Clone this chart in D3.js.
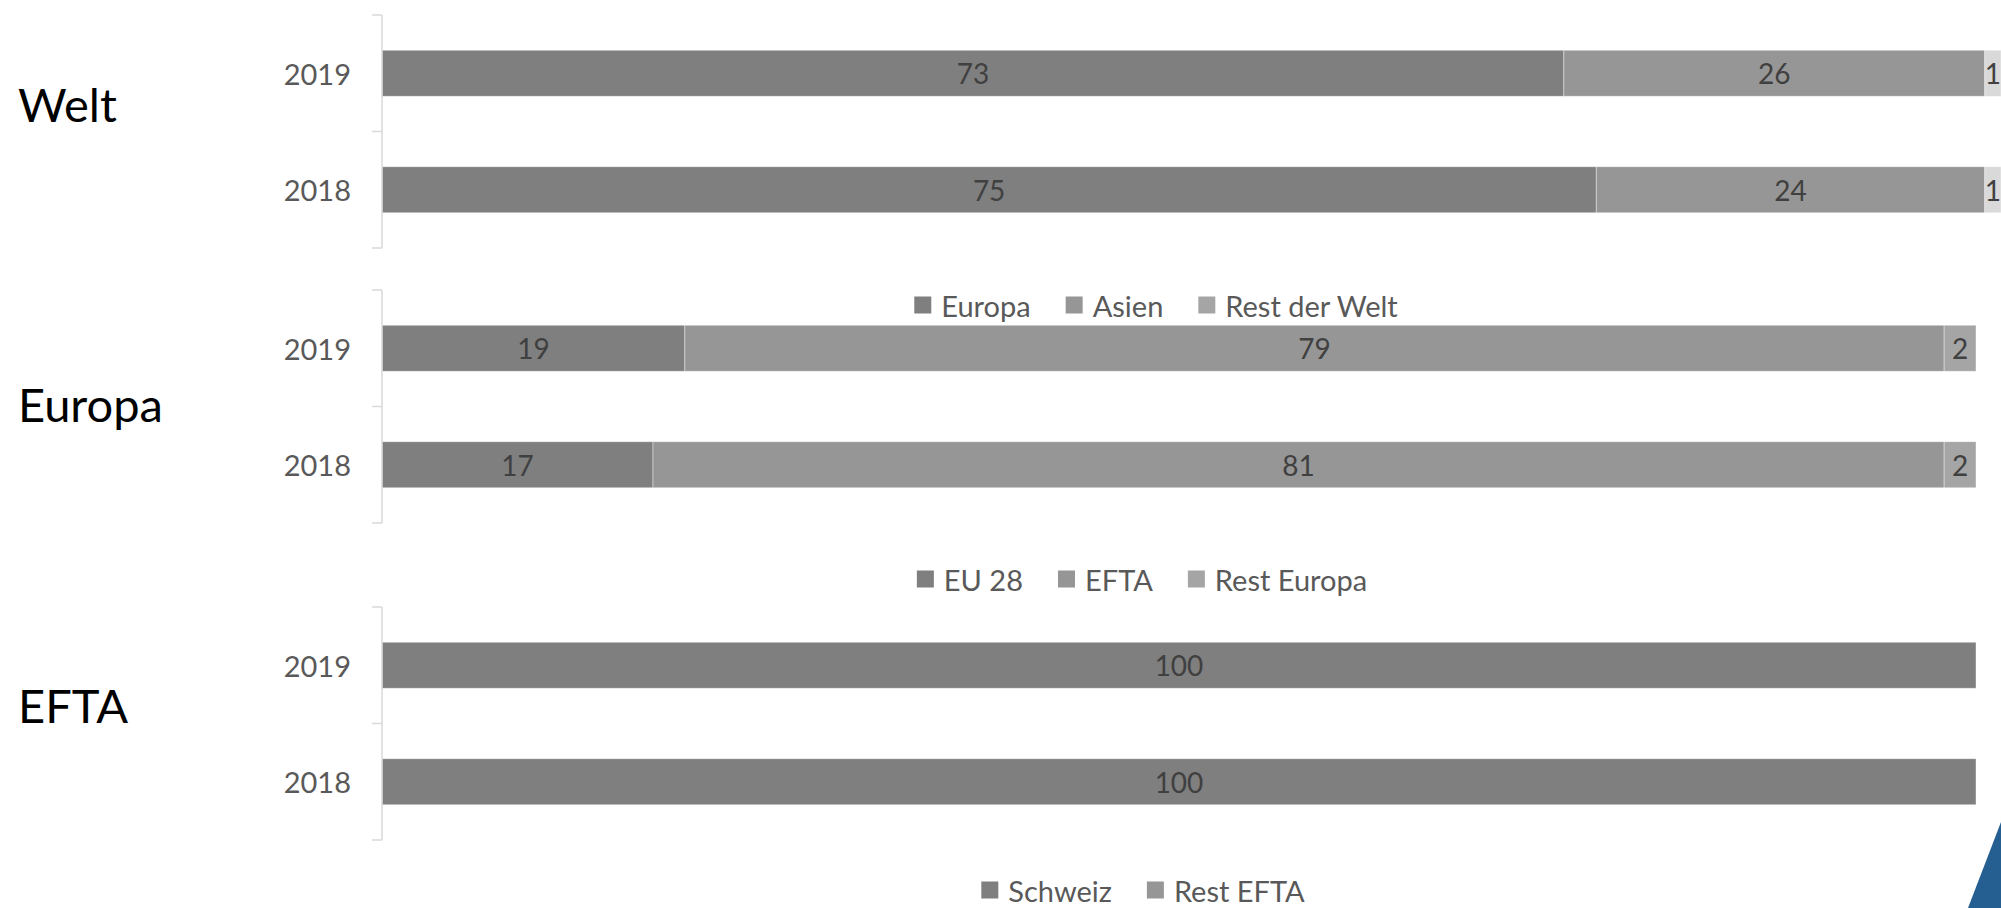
<!DOCTYPE html>
<html><head>
<meta charset="utf-8">
<title>Welt / Europa / EFTA</title>
<script src="https://d3js.org/d3.v7.min.js"></script>
<style>
  body { margin: 0; background: #fff; }
  text { font-family: Lato, "Open Sans", sans-serif; }
  .axis line { stroke: #d9d9d9; stroke-width: 1.5; }
  .cat { fill: #595959; font-size: 29px; }
  .val { fill: #404040; font-size: 28px; }
  .leg { fill: #595959; font-size: 29px; }
  .panel-title { fill: #000; font-size: 47px; }
</style>
</head>
<body>
<svg id="chart" width="2001" height="908"></svg>
<script>

// ---- data ----
const years = ["2019", "2018"];

const weltKeys = ["Europa", "Asien", "Rest der Welt"];
const welt2019 = [73, 26, 1];
const welt2018 = [75, 24, 1];

const europaKeys = ["EU 28", "EFTA", "Rest Europa"];
const europa2019 = [19, 79, 2];
const europa2018 = [17, 81, 2];

const eftaKeys = ["Schweiz", "Rest EFTA"];
const efta2019 = [100, 0];
const efta2018 = [100, 0];

// ---- layout ----
const svg = d3.select("#chart");
const axisX = 382;

const panels = [
  { title: "Welt", keys: weltKeys, rows: [welt2019, welt2018],
    top: 15, right: 2001, titleY: 122, legendY: 305, legendCx: 1156,
    colors: ["#7f7f7f", "#969696", "#d9d9d9"],
    legendColors: ["#7f7f7f", "#969696", "#a5a5a5"] },
  { title: "Europa", keys: europaKeys, rows: [europa2019, europa2018],
    top: 290, right: 1976, titleY: 422, legendY: 579, legendCx: 1142,
    colors: ["#7f7f7f", "#969696", "#a5a5a5"],
    legendColors: ["#7f7f7f", "#969696", "#a5a5a5"] },
  { title: "EFTA", keys: eftaKeys, rows: [efta2019, efta2018],
    top: 607, right: 1976, titleY: 723, legendY: 890, legendCx: 1143,
    colors: ["#7f7f7f", "#969696"],
    legendColors: ["#7f7f7f", "#969696"] }
];
const panelHeight = 233;

panels.forEach(p => {

  const g = svg.append("g");

  // turn the rows into objects for d3.stack
  const table = years.map((y, i) => {
    let o = { year: y };
    p.keys.forEach((k, j) => { o[k] = p.rows[i][j]; });
    return o;
  });
  const stacked = d3.stack().keys(p.keys)(table);

  const x = d3.scaleLinear().domain([0, 100]).range([axisX, p.right]);
  const y = d3.scaleBand().domain(years)
              .range([p.top, p.top + panelHeight])
              .paddingInner(0.605).paddingOuter(0.3025);
  const color = d3.scaleOrdinal().domain(p.keys).range(p.colors);

  // panel title
  g.append("text").attr("class", "panel-title")
    .attr("x", 18).attr("y", p.titleY)
    .text(p.title);

  // bars
  const series = g.selectAll("g.series")
    .data(stacked)
    .join("g")
      .attr("class", "series")
      .attr("fill", d => color(d.key));

  series.selectAll("rect")
    .data(d => d)
    .join("rect")
      .attr("x", d => x(d[0]))
      .attr("y", d => y(d.data.year))
      .attr("width", d => x(d[1]) - x(d[0]))
      .attr("height", y.bandwidth())
      .attr("stroke", "#fff")
      .attr("stroke-opacity", 0.5)
      .attr("stroke-width", 0.8);

  // value labels
  series.selectAll("text")
    .data(d => d.filter(s => s[1] - s[0] > 0))
    .join("text")
      .attr("class", "val")
      .attr("x", d => (x(d[0]) + x(d[1])) / 2)
      .attr("y", d => y(d.data.year) + y.bandwidth() / 2)
      .attr("text-anchor", "middle")
      .attr("dominant-baseline", "central")
      .text(d => d[1] - d[0]);

  // category axis (tick marks between categories)
  const ax = g.append("g").attr("class", "axis");
  ax.append("line")
    .attr("x1", axisX).attr("x2", axisX)
    .attr("y1", p.top).attr("y2", p.top + panelHeight);
  const tickYs = [p.top, p.top + panelHeight / 2, p.top + panelHeight];
  ax.selectAll("line.tick")
    .data(tickYs)
    .join("line")
      .attr("class", "tick")
      .attr("x1", axisX - 10).attr("x2", axisX)
      .attr("y1", d => d).attr("y2", d => d);

  g.selectAll("text.cat")
    .data(years)
    .join("text")
      .attr("class", "cat")
      .attr("x", axisX - 31)
      .attr("y", d => y(d) + y.bandwidth() / 2)
      .attr("text-anchor", "end")
      .attr("dominant-baseline", "central")
      .text(d => d);

  // legend, centred under the panel
  const leg = g.append("g");
  const items = leg.selectAll("g.item")
    .data(p.keys)
    .join("g")
      .attr("class", "item");
  items.append("rect")
    .attr("width", 17).attr("height", 17)
    .attr("y", -8.5)
    .attr("fill", (d, i) => p.legendColors[i]);
  items.append("text")
    .attr("class", "leg")
    .attr("x", 27)
    .attr("dominant-baseline", "central")
    .text(d => d);

  let cursor = 0;
  items.each(function() {
    const w = 27 + d3.select(this).select("text").node().getComputedTextLength();
    d3.select(this).attr("transform", "translate(" + cursor + ",0)");
    cursor += w + 35;
  });
  const total = cursor - 35;
  leg.attr("transform", "translate(" + (p.legendCx - total / 2) + "," + p.legendY + ")");
});

// blue corner shape of the slide
svg.append("polygon")
  .attr("points", [[2001, 822], [1968, 908], [2001, 908]].join(" "))
  .attr("fill", "#255e91");

</script>
</body>
</html>
